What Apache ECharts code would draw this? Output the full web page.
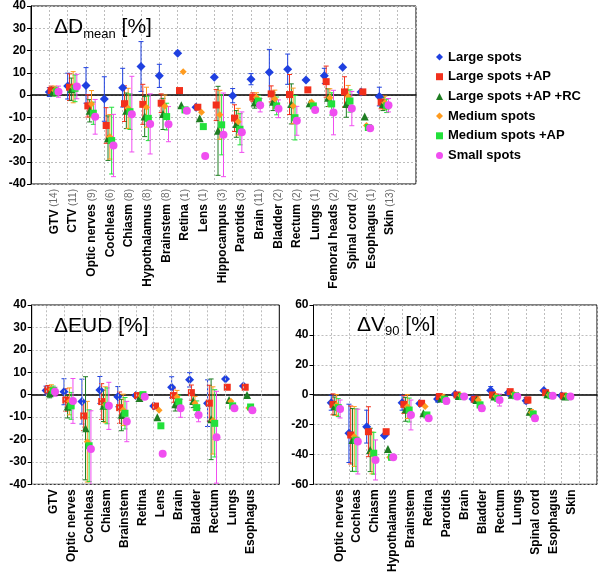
<!DOCTYPE html>
<html><head><meta charset="utf-8">
<script src="https://cdn.jsdelivr.net/npm/echarts@6/dist/echarts.min.js"></script>
<style>html,body{margin:0;padding:0;background:#fff}#c{width:601px;height:577px}</style>
</head><body><div id="c"></div><script>
const FONT = '"Liberation Sans", Arial, Helvetica, sans-serif';
const seriesNames = ['Large spots','Large spots +AP','Large spots +AP +RC','Medium spots','Medium spots +AP','Small spots'];

// ---- ΔDmean ----
const dmeanCats = ['GTV','CTV','Optic nerves','Cochleas','Chiasm','Hypothalamus','Brainstem','Retina','Lens','Hippocampus','Parotids','Brain','Bladder','Rectum','Lungs','Femoral heads','Spinal cord','Esophagus','Skin'];
const dmeanCounts = [14,11,9,6,8,8,8,1,1,3,3,11,2,2,1,2,2,1,13];
const dmeanYTicks = [-40,-30,-20,-10,0,10,20,30,40];
const dmeanLarge     = [1.3,4.0,4.3,-1.8,3.3,12.8,8.6,18.8,-5.5,8.0,-0.3,7.1,10.2,11.6,6.7,8.6,12.5,1.4,-0.7];
const dmeanLargeErr  = [2,5.8,8,10,8.7,11.2,5.2,null,null,null,3.2,2.5,10.3,6.8,null,3.4,null,null,4.2];
const dmeanLargeAP   = [2.0,3.5,-4.9,-13.7,-3.9,-4.2,-3.7,2.0,-5.5,-4.5,-10.4,-1.0,0.5,0.2,2.3,6.0,1.4,1.4,-3.2];
const dmeanLargeAPErr= [2,6,5,8,8,9,4.2,null,null,7,6,2,3.6,9,null,7,6.8,null,3];
const dmeanLargeRC   = [1.5,2.6,-7.1,-19.4,-7.1,-9.7,-8.5,-4.6,-10.4,-16.1,-13.0,-3.4,-3.0,-4.0,-3.7,-1.2,-4.0,-9.7,-4.0];
const dmeanLargeRCErr= [2,5,5,10,8,9,7,null,null,20,6,2.5,4,9,null,4,6,null,3];
const dmeanMedium    = [2.0,3.5,-4.0,-18.8,-6.0,-5.5,-5.0,10.5,-7.7,-8.9,-12.0,-1.0,-1.8,-4.9,-3.2,-1.2,-0.7,-13.7,-3.5];
const dmeanMediumErr = [2,7,6,10,9,9,5,null,null,11,6,2,4,8,null,4,5,null,3];
const dmeanMediumAP  = [1.5,3.0,-8.2,-20.5,-7.5,-10.5,-9.7,-6.7,-14.2,-13.4,-15.4,-2.7,-4.9,-10.2,-4.9,-4.0,-2.7,-14.6,-4.9];
const dmeanMediumAPErr=[2,6,5,15,8,10,6,null,null,13.5,7,2.5,4,10,null,5,5,null,3];
const dmeanSmall     = [1.5,3.8,-9.8,-22.7,-8.6,-13.0,-13.1,-7.1,-27.4,-17.9,-16.7,-4.6,-6.2,-11.6,-6.7,-7.9,-6.1,-14.9,-4.6];
const dmeanSmallErr  = [2.5,5.5,7.8,14,17,13.5,7.9,null,null,18.8,9.1,3,4,6.5,null,10,7.7,null,3];

// ---- ΔEUD ----
const eudCats = ['GTV','Optic nerves','Cochleas','Chiasm','Brainstem','Retina','Lens','Brain','Bladder','Rectum','Lungs','Esophagus'];
const eudYTicks = [-40,-30,-20,-10,0,10,20,30,40];
const eudLarge     = [1.8,1.3,-3.1,2.1,-0.9,-0.4,-5.1,3.3,6.6,-3.8,7.0,3.9];
const eudLargeErr  = [2,5.8,10,6,4.5,null,null,4.7,3.2,10.4,null,null];
const eudLargeAP   = [2.1,-2.4,-9.5,-3.1,-5.8,-0.4,-5.1,-0.4,0.9,-3.8,3.3,3.3];
const eudLargeAPErr= [2,5,6.5,8,7,null,null,3,3.4,8,null,null];
const eudLargeRC   = [0.6,-5.4,-15,-5,-9.1,-1.5,-10.1,-4.3,-2.8,-11,-2.4,-0.2];
const eudLargeRCErr= [2,5,23,7,7,null,null,3,3,18,null,null];
const eudMedium    = [2.4,-3,-21,-4.5,-6.8,-0.5,-7,-1.1,-3.8,-11.5,-3,-6];
const eudMediumErr = [2,6,18,8,7,null,null,3,3,15,null,null];
const eudMediumAP  = [1.8,-5,-22.8,-5,-8.3,0,-13.9,-3.2,-5.8,-12.8,-5,-5.5];
const eudMediumAPErr=[2,6,16,8,7,null,null,3,3,15,null,null];
const eudSmall     = [1.3,-2.8,-24.2,-5,-12,-0.9,-26.4,-6.1,-9.1,-19,-6.1,-7];
const eudSmallErr  = [2,10,17,10.5,9,null,null,4,3,20.5,null,null];

// ---- ΔV90 ----
const v90Cats = ['Optic nerves','Cochleas','Chiasm','Hypothalamus','Brainstem','Retina','Parotids','Brain','Bladder','Rectum','Lungs','Spinal cord','Esophagus','Skin'];
const v90YTicks = [-60,-40,-20,0,20,40,60];
const v90Large     = [-5.4,-25.9,-21.4,-27.4,-5.4,-6,-2.9,0.2,-2.9,2.7,1.3,-4,2.7,-0.7];
const v90LargeErr  = [5,19.5,11,null,5,null,2,1,2,2.7,null,2,null,1];
const v90LargeAP   = [-6.5,-27,-24.8,-24.8,-6.5,-5.8,-1.3,-0.2,-3.1,-0.2,2.0,-3.6,1.3,-0.9];
const v90LargeAPErr= [7,19.4,16.7,null,6,null,2,1,2,2,null,2,null,1];
const v90LargeRC   = [-7.6,-30.3,-37,-36.3,-9.8,-12.5,-2.5,-0.9,-3.6,-1.3,0,-11.4,0.2,-1.3];
const v90LargeRCErr= [6,21,14.5,null,8,null,2,1,2,2,null,2,null,1];
const v90Medium    = [-7,-28,-39,-41.9,-8,-8,-1.8,-0.5,-3.5,-1.3,0.5,-12,0,-1];
const v90MediumErr = [7,20,14,null,8,null,2,1,2,2,null,2,null,1];
const v90MediumAP  = [-8.7,-30.5,-39.2,-41.9,-10.3,-13.6,-3.1,-1.3,-6.9,-2.5,-0.7,-13,-0.7,-1.3];
const v90MediumAPErr=[6,21,14,null,8,null,2,1,2,2,null,2,null,1];
const v90Small     = [-9.6,-31.4,-43.7,-41.9,-13.6,-15.8,-4.2,-1.3,-9.1,-3.6,-1.3,-15.8,-0.7,-1.3];
const v90SmallErr  = [6,21.7,13.4,null,10,null,2,1,2,4,null,2,null,1];

// ---- styles ----
const colors = ['#1f40e0','#f2301c','#1e7d22','#ff9b1e','#22e03a','#f04ef0'];
const symbols = ['diamond','rect','triangle','diamond','rect','circle'];
const sizes = [9,7,8,7,7,8];
const offsets = [0,0.1,0.2,0.3,0.4,0.5];
const GRIDC = '#bdbdbd';

const option = {
  animation:false, backgroundColor:'#fff',
  textStyle:{fontFamily:FONT},
  grid:[], xAxis:[], yAxis:[], series:[], title:[],
  legend:{
    orient:'vertical', left:431, top:45, itemWidth:7, itemHeight:7, itemGap:5.7,
    selectedMode:false,
    data: seriesNames.map((n,i)=>({name:n, icon:symbols[i]})),
    textStyle:{fontFamily:FONT, fontWeight:'bold', fontSize:13, color:'#000000', lineHeight:14}
  }
};

function addPanel(p){
  const gi = option.grid.length;
  option.grid.push({left:p.left, top:p.top, width:p.width, height:p.height, show:true, borderColor:'#000', borderWidth:1});
  option.grid.push({left:p.labLeft, top:p.top, width:p.labWidth, height:p.height});
  const yMin = p.yTicks[0], yMax = p.yTicks[p.yTicks.length-1], yInt = p.yTicks[1]-p.yTicks[0];
  const splitOk = p.xMin % 1 === 0;
  option.xAxis.push({gridIndex:gi, type:'value', min:p.xMin, max:p.xMax, interval:1,
    axisLine:{onZero:true, lineStyle:{color:'#000', width:1.6}}, axisTick:{show:false}, axisLabel:{show:false},
    splitLine:{show:splitOk, lineStyle:{color:GRIDC, type:[2,2]}}});
  option.xAxis.push({gridIndex:gi+1, type:'value', min:0, max:p.labMax, interval:1,
    axisLine:{show:false, onZero:false}, axisTick:{show:false}, splitLine:{show:false},
    axisLabel:{rotate:90, margin:5, formatter:v=>(v>=1 && v<=p.cats.length)? p.labelText(v-1) : '',
      rich:{b:{fontFamily:FONT, fontWeight:'bold', fontSize:12, color:'#000'},
            n:{fontFamily:FONT, fontSize:10, color:'#6a6a6a'}}}});
  option.yAxis.push({gridIndex:gi, type:'value', min:yMin, max:yMax, interval:yInt,
    axisLine:{show:true, lineStyle:{color:'#000'}}, axisTick:{show:true, length:4, lineStyle:{color:'#000'}},
    axisLabel:{margin:5, color:'#000', fontWeight:'bold', fontSize:12, fontFamily:FONT},
    splitLine:{show:true, lineStyle:{color:GRIDC, type:[2,2]}}});
  option.yAxis.push({gridIndex:gi+1, type:'value', min:yMin, max:yMax, show:false});
  if(!splitOk){
    const vals=[]; for(let k=Math.ceil(p.xMin); k<p.xMax; k++) vals.push({xAxis:k});
    option.series.push({type:'scatter', xAxisIndex:gi, yAxisIndex:gi, data:[], z:1, silent:true,
      markLine:{silent:true, symbol:['none','none'], label:{show:false}, animation:false,
        lineStyle:{color:GRIDC, type:[2,2], width:1}, data:vals}});
  }
  option.series.push({type:'scatter', xAxisIndex:gi+1, yAxisIndex:gi+1, data:[], silent:true});
  p.series.forEach((pair,s)=>{
    const vals = pair[0], errs = pair[1], off = offsets[s], col = colors[s];
    const errData = [];
    vals.forEach((v,i)=>{ if(errs[i]!=null) errData.push([i+1+off, v-errs[i], v+errs[i]]); });
    option.series.push({type:'custom', xAxisIndex:gi, yAxisIndex:gi, z:2, clip:true, silent:true,
      data:errData,
      renderItem:(params, api)=>{
        const x = api.value(0), lo = api.value(1), hi = api.value(2);
        const a = api.coord([x, hi]), b = api.coord([x, lo]);
        const w = 2.5, st = {stroke:col, lineWidth:1};
        return {type:'group', children:[
          {type:'line', shape:{x1:a[0], y1:a[1], x2:b[0], y2:b[1]}, style:st},
          {type:'line', shape:{x1:a[0]-w, y1:a[1], x2:a[0]+w, y2:a[1]}, style:st},
          {type:'line', shape:{x1:b[0]-w, y1:b[1], x2:b[0]+w, y2:b[1]}, style:st}
        ]};
      }});
  });
  p.series.forEach((pair,s)=>{
    option.series.push({name:seriesNames[s], type:'scatter', xAxisIndex:gi, yAxisIndex:gi, z:3+s*0.01,
      symbol:symbols[s], symbolSize:sizes[s], itemStyle:{color:colors[s], opacity:1},
      data: pair[0].map((v,i)=>[i+1+offsets[s], v])});
  });
}

addPanel({left:31, top:6, width:385, height:178, xMin:0, xMax:21,
  labLeft:35.9, labWidth:20*18.64, labMax:20,
  cats:dmeanCats, labelText:i=>'{b|'+dmeanCats[i]+'}{n| ('+dmeanCounts[i]+')}',
  yTicks:dmeanYTicks,
  series:[[dmeanLarge,dmeanLargeErr],[dmeanLargeAP,dmeanLargeAPErr],[dmeanLargeRC,dmeanLargeRCErr],
          [dmeanMedium,dmeanMediumErr],[dmeanMediumAP,dmeanMediumAPErr],[dmeanSmall,dmeanSmallErr]]});
addPanel({left:31.7, top:305, width:247.6, height:179.3, xMin:0.2, xMax:14,
  labLeft:35.35, labWidth:14*17.95, labMax:14,
  cats:eudCats, labelText:i=>'{b|'+eudCats[i]+'}',
  yTicks:eudYTicks,
  series:[[eudLarge,eudLargeErr],[eudLargeAP,eudLargeAPErr],[eudLargeRC,eudLargeRCErr],
          [eudMedium,eudMediumErr],[eudMediumAP,eudMediumAPErr],[eudSmall,eudSmallErr]]});
addPanel({left:313.5, top:305, width:283.5, height:179.3, xMin:0, xMax:16,
  labLeft:321.4, labWidth:15*17.88, labMax:15,
  cats:v90Cats, labelText:i=>'{b|'+v90Cats[i]+'}',
  yTicks:v90YTicks,
  series:[[v90Large,v90LargeErr],[v90LargeAP,v90LargeAPErr],[v90LargeRC,v90LargeRCErr],
          [v90Medium,v90MediumErr],[v90MediumAP,v90MediumAPErr],[v90Small,v90SmallErr]]});

const titleRich = {
  a:{fontFamily:FONT, fontSize:21, fontWeight:'normal', color:'#000', lineHeight:26},
  s:{fontFamily:FONT, fontSize:13, fontWeight:'normal', color:'#000', verticalAlign:'bottom'}
};
const titleStyle = {fontWeight:'normal', fontFamily:FONT, color:'#000', rich:titleRich};
option.title = [
  {text:'{a|ΔD}{s|mean}{a| [%]}', left:54, top:14.5, padding:0, textStyle:titleStyle},
  {text:'{a|ΔEUD [%]}', left:54, top:312.8, padding:0, textStyle:titleStyle},
  {text:'{a|ΔV}{s|90}{a| [%]}', left:357, top:311.8, padding:0, textStyle:titleStyle}
];

const chart = echarts.init(document.getElementById('c'), null, {renderer:'canvas'});
chart.setOption(option);
</script></body></html>
